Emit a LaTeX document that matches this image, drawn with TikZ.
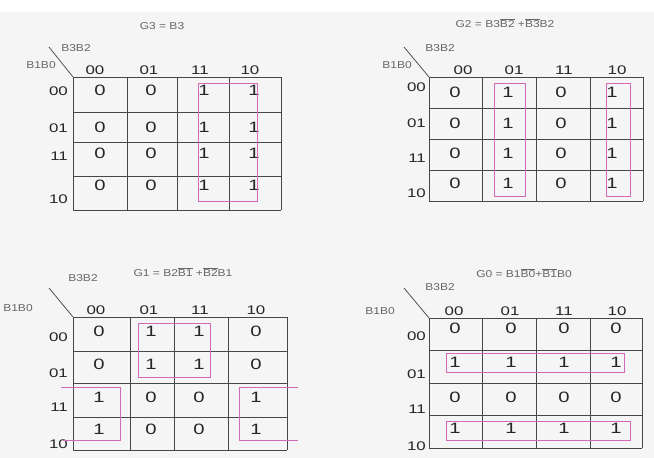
\documentclass[tikz,border=0pt]{standalone}
\usepackage{fontspec}
\setmainfont{Liberation Sans}[FakeStretch=1.2]
\newfontfamily\numfont{Liberation Sans}[FakeStretch=1.35]
\usepackage{tikz}
\definecolor{kpink}{RGB}{214,104,186}
\def \nt#1{\ensuremath{\overline{\mbox{#1}}}}
\def \rc {B3B2}
\def \cc {B1B0}

\begin{document}
\begin{tikzpicture}[x=1pt,y=-1pt,
      val/.style={font=\numfont\fontsize{15}{16}\selectfont,text=black!85,inner sep=0pt},
      hdr/.style={font=\numfont\fontsize{12.5}{13}\selectfont,text=black!85,inner sep=0pt},
      lbl/.style={font=\fontsize{10}{11}\selectfont,text=black!60,inner sep=0pt},
      grid/.style={draw=black!72,line width=0.75pt},
      grp/.style={draw=kpink,line width=0.8pt}]
  \useasboundingbox (0,0) rectangle (654,458);
  \fill[white] (0,0) rectangle (654,458);
  \fill[black!4] (0,12) rectangle (654,458);

  % G3
  \node[lbl] (T3) at (162,26) {G3 = B3};
  \node[lbl] (C3) at (76,48) {\rc};
  \node[lbl] (R3) at (41,65) {\cc};
  \coordinate (D3) at (49,47);
  \coordinate (K3) at (73,77);
  \draw[grid] (D3) -- (K3);
  \foreach \x in {73,127,177,229,281} \draw[grid] (\x,77) -- (\x,210);
  \foreach \y in {77,112,142,176,210} \draw[grid] (73,\y) -- (281,\y);
  \foreach \t/\x in {00/95,01/149,11/200,10/250}
    \node[hdr] (h3\t) at (\x,70) {\t};
  \foreach \t/\y in {00/91,01/128,11/156,10/199}
    \node[hdr,anchor=east] (r3\t) at (68,\y) {\t};
  \foreach \y/\a/\b/\c/\d in {90/0/0/1/1,127/0/0/1/1,153/0/0/1/1,185/0/0/1/1} {
    \node[val] (g3a\y) at (100,\y) {\a};
    \node[val] (g3b\y) at (151,\y) {\b};
    \node[val] (g3c\y) at (204,\y) {\c};
    \node[val] (g3d\y) at (254,\y) {\d};
  }
  \draw[grp] (198,83) rectangle (257,201);

  % G2
  \node[lbl] (T2) at (505,23) {G2 = B3\nt{B2} +\nt{B3}B2};
  \node[lbl] (C2) at (440,48) {\rc};
  \node[lbl] (R2) at (397,65) {\cc};
  \coordinate (D2) at (404,47);
  \coordinate (K2) at (429,77);
  \draw[grid] (D2) -- (K2);
  \foreach \x in {429,482,536,590,643} \draw[grid] (\x,77) -- (\x,201);
  \foreach \y in {77,108,139,170,201} \draw[grid] (429,\y) -- (643,\y);
  \foreach \t/\x in {00/463,01/514,11/564,10/617}
    \node[hdr] (h2\t) at (\x,70) {\t};
  \foreach \t/\y in {00/87,01/123,11/158,10/193}
    \node[hdr,anchor=east] (r2\t) at (426,\y) {\t};
  \foreach \y/\a/\b/\c/\d in {92/0/1/0/1,123/0/1/0/1,153/0/1/0/1,183/0/1/0/1} {
    \node[val] (g2a\y) at (455,\y) {\a};
    \node[val] (g2b\y) at (508,\y) {\b};
    \node[val] (g2c\y) at (561,\y) {\c};
    \node[val] (g2d\y) at (612,\y) {\d};
  }
  \draw[grp] (494,83) rectangle (525,196);
  \draw[grp] (606,83) rectangle (630,196);

  % G1
  \node[lbl] (T1) at (183,272) {G1 = B2\nt{B1} +\nt{B2}B1};
  \node[lbl] (C1) at (83,278) {\rc};
  \node[lbl] (R1) at (18,308) {\cc};
  \coordinate (D1) at (49,288);
  \coordinate (K1) at (73,317);
  \draw[grid] (D1) -- (K1);
  \foreach \x in {73,130,174,228,287} \draw[grid] (\x,317) -- (\x,450);
  \foreach \y in {317,351,383,417,450} \draw[grid] (73,\y) -- (287,\y);
  \foreach \t/\x in {00/96,01/149,11/200,10/256}
    \node[hdr] (h1\t) at (\x,310) {\t};
  \foreach \t/\y in {00/337,01/373,11/407,10/444}
    \node[hdr,anchor=east] (r1\t) at (68,\y) {\t};
  \foreach \y/\a/\b/\c/\d in {331/0/1/1/0,364/0/1/1/0,397/1/0/0/1,429/1/0/0/1} {
    \node[val] (g1a\y) at (99,\y) {\a};
    \node[val] (g1b\y) at (151,\y) {\b};
    \node[val] (g1c\y) at (199,\y) {\c};
    \node[val] (g1d\y) at (256,\y) {\d};
  }
  \draw[grp] (138,323) rectangle (210,377);
  \draw[grp] (61,387) -- (120,387) -- (120,440) -- (63,440);
  \draw[grp] (298,387) -- (239,387) -- (239,440) -- (298,440);

  % G0
  \node[lbl] (T0) at (524,273) {G0 = B1\nt{B0}+\nt{B1}B0};
  \node[lbl] (C0) at (440,287) {\rc};
  \node[lbl] (R0) at (380,311) {\cc};
  \coordinate (D0) at (404,288);
  \coordinate (K0) at (429,318);
  \draw[grid] (D0) -- (K0);
  \foreach \x in {429,482,536,590,642} \draw[grid] (\x,318) -- (\x,448);
  \foreach \y in {318,350,383,415,448} \draw[grid] (429,\y) -- (642,\y);
  \foreach \t/\x in {00/454,01/510,11/564,10/617}
    \node[hdr] (h0\t) at (\x,311) {\t};
  \foreach \t/\y in {00/336,01/374,11/409,10/446}
    \node[hdr,anchor=east] (r0\t) at (426,\y) {\t};
  \foreach \y/\a/\b/\c/\d in {328/0/0/0/0,362/1/1/1/1,397/0/0/0/0,428/1/1/1/1} {
    \node[val] (g0a\y) at (455,\y) {\a};
    \node[val] (g0b\y) at (511,\y) {\b};
    \node[val] (g0c\y) at (564,\y) {\c};
    \node[val] (g0d\y) at (616,\y) {\d};
  }
  \draw[grp] (446,353) rectangle (624,372);
  \draw[grp] (446,421) rectangle (630,440);
\end{tikzpicture}
\end{document}
